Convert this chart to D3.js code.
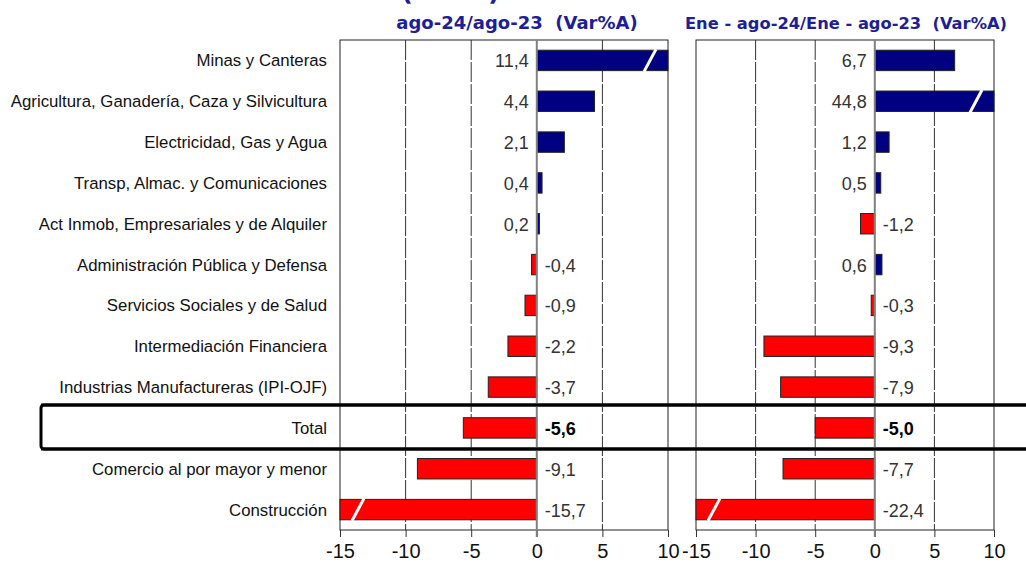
<html lang="es">
<head>
  <meta charset="UTF-8"/>
  <title>Var%A por sectores</title>
  <script src="https://d3js.org/d3.v7.min.js"></script>
</head>
<style>
  body { margin: 0; background: #fff; }
  svg { display: block; }
  text { font-family: 'Liberation Sans', Arial, sans-serif; }
  .head { font-family: 'DejaVu Sans', sans-serif; font-weight: bold; font-size: 17.5px; fill: #1e1e96; white-space: pre; }
  .cat { font-size: 16.8px; fill: #111; }
  .val { font-size: 18px; fill: #333; }
  .tick { font-size: 20px; fill: #111; }
  .grid { stroke: #333; stroke-width: 1; stroke-dasharray: 20 2; }
</style>
<body>
<svg width="1026" height="565"></svg>
<script>
const categories = [
  'Minas y Canteras',
  'Agricultura, Ganadería, Caza y Silvicultura',
  'Electricidad, Gas y Agua',
  'Transp, Almac. y Comunicaciones',
  'Act Inmob, Empresariales y de Alquiler',
  'Administración Pública y Defensa',
  'Servicios Sociales y de Salud',
  'Intermediación Financiera',
  'Industrias Manufactureras (IPI-OJF)',
  'Total',
  'Comercio al por mayor y menor',
  'Construcción'
];
const mensual   = [11.4, 4.4, 2.1, 0.4, 0.2, -0.4, -0.9, -2.2, -3.7, -5.6, -9.1, -15.7];
const acumulado = [6.7, 44.8, 1.2, 0.5, -1.2, 0.6, -0.3, -9.3, -7.9, -5.0, -7.7, -22.4];
const tickValues = [-15, -10, -5, 0, 5, 10];
const headers = ['ago-24/ago-23  (Var%A)', 'Ene - ago-24/Ene - ago-23  (Var%A)'];

const svg = d3.select('svg');
const loc = d3.formatLocale({decimal: ',', thousands: '.', grouping: [3], currency: ['', ''], minus: '-'});
const fmt = loc.format('.1f');

const plotTop = 40, plotBottom = 530;
const y = d3.scaleBand().domain(categories).range([plotTop, plotBottom]).paddingInner(0.5).paddingOuter(0.25);

// titulo cortado arriba (como en el original)
svg.append('text').attr('class', 'head').attr('x', 401).attr('y', 0)
  .style('font-size', '26px').text('(Var%)');

// fila Total enmarcada
const yt = y('Total') + y.bandwidth() / 2;
svg.append('rect')
  .attr('x', 41).attr('y', yt - 23).attr('width', 1100).attr('height', 44)
  .attr('rx', 3).attr('fill', 'none').attr('stroke', '#000').attr('stroke-width', 3);

// etiquetas de categoria
svg.append('g').selectAll('text').data(categories).join('text')
  .attr('class', 'cat')
  .attr('x', 327)
  .attr('y', d => y(d) + y.bandwidth() / 2 + 6)
  .attr('text-anchor', 'end')
  .text(d => d);

function panel(values, x0, x1, header, headX, headSize) {
  const x = d3.scaleLinear().domain([-15, 10]).range([x0, x1]);
  const g = svg.append('g');

  g.append('text').attr('class', 'head').attr('x', headX).attr('y', 29)
    .attr('text-anchor', 'middle')
    .style('font-size', headSize + 'px')
    .text(header);

  g.selectAll('line.grid').data([-10, -5, 5]).join('line')
    .attr('class', 'grid')
    .attr('x1', d => x(d)).attr('x2', d => x(d))
    .attr('y1', plotTop).attr('y2', plotBottom);

  g.append('rect')
    .attr('x', x(-15)).attr('y', plotTop).attr('width', x(10) - x(-15)).attr('height', plotBottom - plotTop)
    .attr('fill', 'none').attr('stroke', '#222');

  const axis = d3.axisBottom(x).tickValues(tickValues).tickSize(7).tickFormat(d => loc.format('d')(d));
  const ax = g.append('g').attr('transform', `translate(0,${plotBottom})`).call(axis);
  ax.select('.domain').remove();
  ax.selectAll('line').attr('stroke', '#333');
  ax.selectAll('text').attr('class', 'tick').attr('y', 14).attr('dy', '0.71em')
    .attr('fill', '#111').style('font-family', "'Liberation Sans', Arial, sans-serif");

  const rows = categories.map((c, i) => ({c, v: values[i]}));
  const clip = v => Math.max(-15, Math.min(10, v));

  g.selectAll('rect.bar').data(rows).join('rect')
    .attr('class', 'bar')
    .attr('x', d => x(Math.min(0, clip(d.v))))
    .attr('y', d => y(d.c))
    .attr('width', d => Math.abs(x(clip(d.v)) - x(0)))
    .attr('height', y.bandwidth())
    .attr('fill', d => d.v >= 0 ? '#000080' : '#ff0000')
    .attr('stroke', '#222').attr('stroke-width', 1);

  // cortes en barras que salen de la escala
  g.selectAll('line.cut').data(rows.filter(d => d.v > 10 || d.v < -15)).join('line')
    .attr('stroke', '#fff').attr('stroke-width', 3)
    .attr('x1', d => x(clip(d.v)) + (d.v > 0 ? -18 : 18) - 6)
    .attr('x2', d => x(clip(d.v)) + (d.v > 0 ? -18 : 18) + 6)
    .attr('y1', d => y(d.c) + y.bandwidth() + 1)
    .attr('y2', d => y(d.c) - 1);

  g.append('line')
    .attr('x1', x(0)).attr('x2', x(0)).attr('y1', plotTop).attr('y2', plotBottom + 7)
    .attr('stroke', '#808080').attr('stroke-width', 2);

  g.selectAll('text.val').data(rows).join('text')
    .attr('class', 'val')
    .attr('x', d => d.v >= 0 ? x(0) - 8 : x(0) + 8)
    .attr('y', d => y(d.c) + y.bandwidth() / 2 + 7)
    .attr('text-anchor', d => d.v >= 0 ? 'end' : 'start')
    .style('font-weight', d => d.c === 'Total' ? 'bold' : null)
    .style('fill', d => d.c === 'Total' ? '#000' : null)
    .text(d => fmt(d.v));
}

panel(mensual, 340, 668, headers[0], 517, 18);
panel(acumulado, 696, 994, headers[1], 846, 16.3);

// lineas de la fila Total por encima de todo
svg.append('line').attr('x1', 41).attr('x2', 1026).attr('y1', yt - 23).attr('y2', yt - 23)
  .attr('stroke', '#000').attr('stroke-width', 3);
svg.append('line').attr('x1', 41).attr('x2', 1026).attr('y1', yt + 21).attr('y2', yt + 21)
  .attr('stroke', '#000').attr('stroke-width', 3);
</script>
</body>
</html>
